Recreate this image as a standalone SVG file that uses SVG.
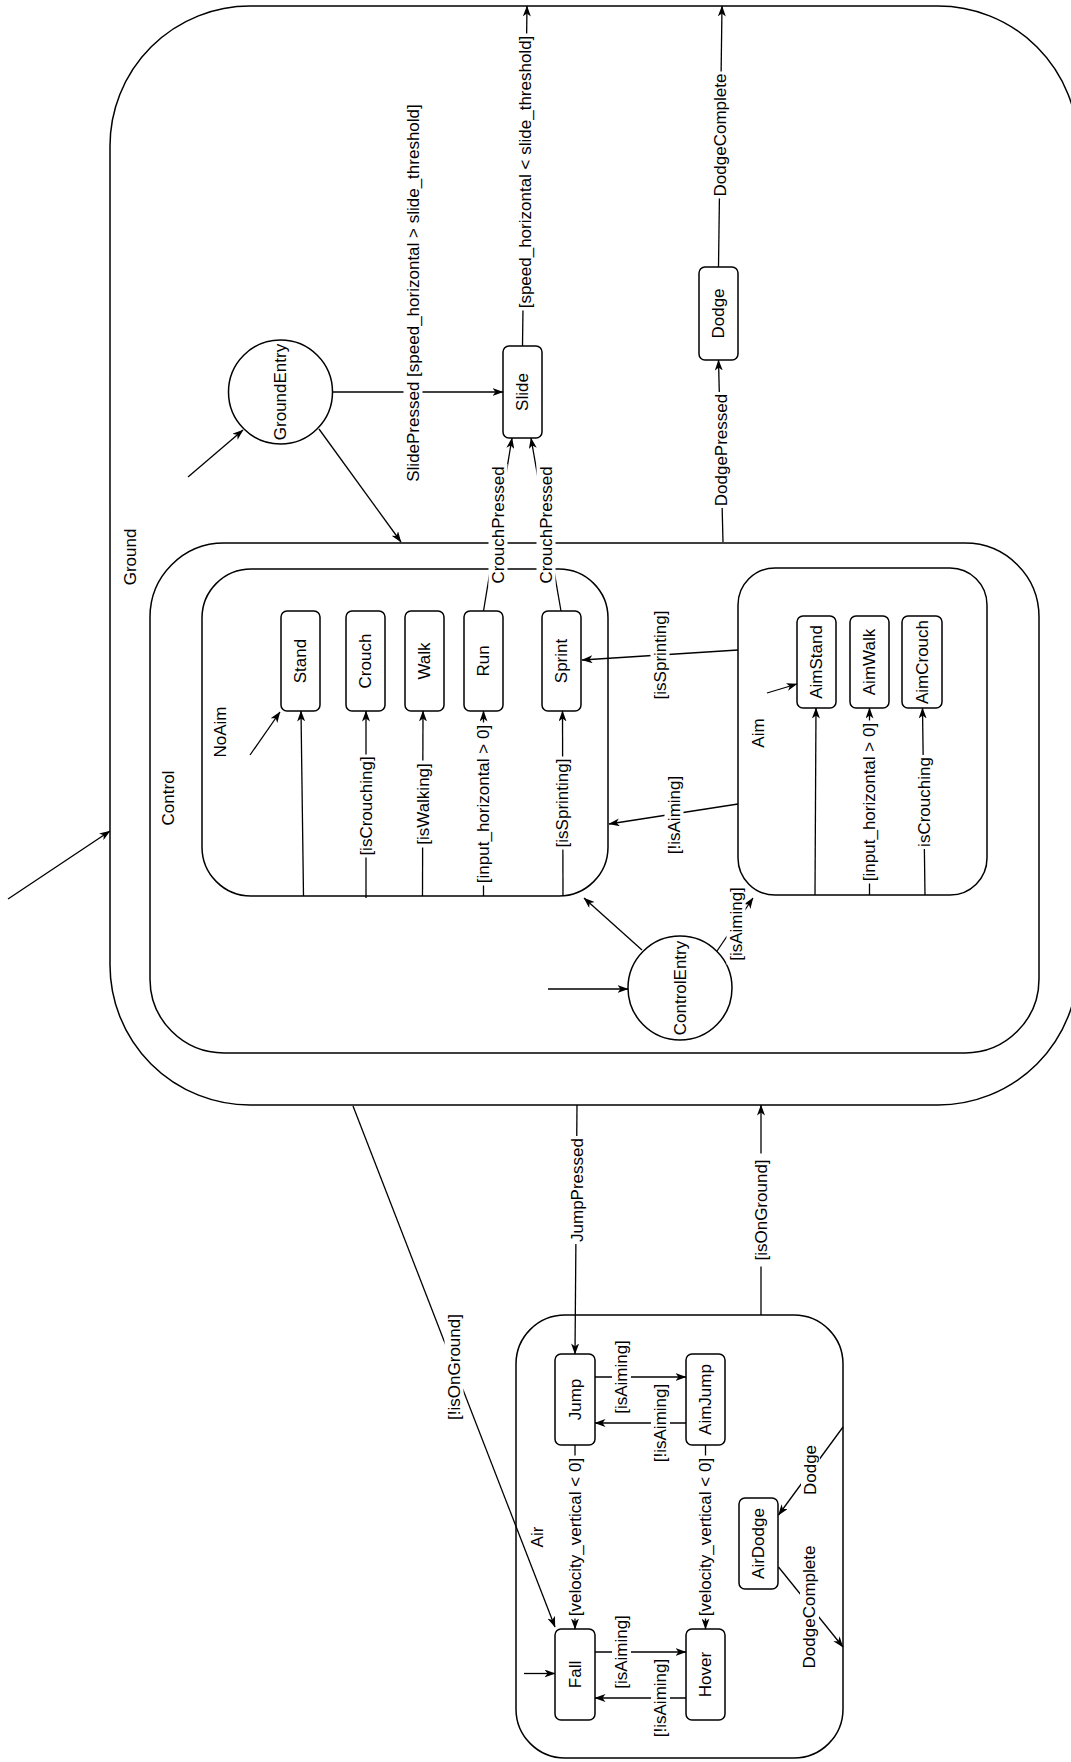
<svg xmlns="http://www.w3.org/2000/svg" width="1071" height="1762" viewBox="0 0 1071 1762">
<defs>
<marker id="ah" viewBox="0 0 11 8" markerWidth="11" markerHeight="8" refX="10.5" refY="4" orient="auto" markerUnits="userSpaceOnUse">
<path d="M0,0 L11,4 L0,8 L3,4 Z" fill="#000"/>
</marker>
<style>
.cont{fill:#fff;stroke:#000;stroke-width:1.5}
.st{fill:#fff;stroke:#000;stroke-width:1.5}
.e{fill:none;stroke:#000;stroke-width:1.3;marker-end:url(#ah)}
.t{font-family:"Liberation Sans",Arial,Helvetica,sans-serif;font-size:17px;fill:#000;text-anchor:middle;dominant-baseline:central}
.lb{fill:#fff;stroke:none}
</style>
</defs>
<rect width="1071" height="1762" fill="#fff"/>

<g id="Ground">
<rect class="cont" x="110" y="6" width="968" height="1099" rx="140" ry="140"/>
<text class="t" transform="translate(130 557) rotate(-90)">Ground</text>
</g>
<g id="Control">
<rect class="cont" x="150" y="543" width="889" height="510" rx="74" ry="74"/>
<text class="t" transform="translate(168 798) rotate(-90)">Control</text>
</g>
<g id="NoAim">
<rect class="cont" x="202" y="569" width="406" height="327" rx="49" ry="49"/>
<text class="t" transform="translate(220.5 732) rotate(-90)">NoAim</text>
</g>
<g id="Aim">
<rect class="cont" x="738" y="568" width="249" height="327" rx="37" ry="37"/>
<text class="t" transform="translate(758 733) rotate(-90)">Aim</text>
</g>
<g id="Air">
<rect class="cont" x="516" y="1315" width="327" height="443" rx="49" ry="49"/>
<text class="t" transform="translate(537.5 1537) rotate(-90)">Air</text>
</g>

<g id="GroundEntry">
<circle class="st" cx="280.5" cy="392" r="52"/>
<text class="t" transform="translate(280.5 392) rotate(-90)">GroundEntry</text>
</g>
<g id="ControlEntry">
<circle class="st" cx="680" cy="988" r="52"/>
<text class="t" transform="translate(680 988) rotate(-90)">ControlEntry</text>
</g>
<g id="Slide">
<rect class="st" x="503" y="346" width="39" height="92" rx="6"/>
<text class="t" transform="translate(522.5 392) rotate(-90)">Slide</text>
</g>
<g id="Dodge">
<rect class="st" x="699" y="267" width="39" height="93" rx="6"/>
<text class="t" transform="translate(718.5 313.5) rotate(-90)">Dodge</text>
</g>
<g id="Stand">
<rect class="st" x="281" y="611" width="39" height="100" rx="6"/>
<text class="t" transform="translate(300.5 661) rotate(-90)">Stand</text>
</g>
<g id="Crouch">
<rect class="st" x="346" y="611" width="39" height="100" rx="6"/>
<text class="t" transform="translate(365.5 661) rotate(-90)">Crouch</text>
</g>
<g id="Walk">
<rect class="st" x="405" y="611" width="39" height="100" rx="6"/>
<text class="t" transform="translate(424.5 661) rotate(-90)">Walk</text>
</g>
<g id="Run">
<rect class="st" x="464" y="611" width="39" height="100" rx="6"/>
<text class="t" transform="translate(483.5 661) rotate(-90)">Run</text>
</g>
<g id="Sprint">
<rect class="st" x="542" y="611" width="39" height="100" rx="6"/>
<text class="t" transform="translate(561.5 661) rotate(-90)">Sprint</text>
</g>
<g id="AimStand">
<rect class="st" x="797" y="616" width="39" height="92" rx="6"/>
<text class="t" transform="translate(816.5 662) rotate(-90)">AimStand</text>
</g>
<g id="AimWalk">
<rect class="st" x="850" y="616" width="39" height="92" rx="6"/>
<text class="t" transform="translate(869.5 662) rotate(-90)">AimWalk</text>
</g>
<g id="AimCrouch">
<rect class="st" x="902" y="616" width="40" height="92" rx="6"/>
<text class="t" transform="translate(922 662) rotate(-90)">AimCrouch</text>
</g>
<g id="Jump">
<rect class="st" x="555" y="1354" width="40" height="91" rx="6"/>
<text class="t" transform="translate(575 1399.5) rotate(-90)">Jump</text>
</g>
<g id="AimJump">
<rect class="st" x="686" y="1354" width="39" height="91" rx="6"/>
<text class="t" transform="translate(705.5 1399.5) rotate(-90)">AimJump</text>
</g>
<g id="Fall">
<rect class="st" x="555" y="1629" width="40" height="91" rx="6"/>
<text class="t" transform="translate(575 1674.5) rotate(-90)">Fall</text>
</g>
<g id="Hover">
<rect class="st" x="686" y="1629" width="39" height="91" rx="6"/>
<text class="t" transform="translate(705.5 1674.5) rotate(-90)">Hover</text>
</g>
<g id="AirDodge">
<rect class="st" x="739" y="1498" width="39" height="91" rx="6"/>
<text class="t" transform="translate(758.5 1543.5) rotate(-90)">AirDodge</text>
</g>

<g id="connectors">
<line class="e" x1="8" y1="899" x2="110" y2="831"/>
<line class="e" x1="188" y1="477" x2="243" y2="430"/>
<line class="e" x1="319" y1="429" x2="401" y2="542"/>
<line class="e" x1="333" y1="392" x2="503" y2="392"/>
<line class="e" x1="522.5" y1="346" x2="527" y2="6"/>
<line class="e" x1="718.5" y1="267" x2="722" y2="6"/>
<line class="e" x1="723" y1="542" x2="718.5" y2="360"/>
<line class="e" x1="483.5" y1="611" x2="512" y2="438"/>
<line class="e" x1="561" y1="611" x2="531" y2="438"/>
<line class="e" x1="548" y1="989" x2="628" y2="989"/>
<line class="e" x1="642" y1="950" x2="584" y2="898"/>
<line class="e" x1="717" y1="951" x2="753" y2="898"/>
<line class="e" x1="738" y1="650" x2="582" y2="660"/>
<line class="e" x1="738" y1="804" x2="609" y2="824"/>
<line class="e" x1="250" y1="755" x2="280" y2="712"/>
<line class="e" x1="303.5" y1="896" x2="301" y2="711"/>
<line class="e" x1="366" y1="898" x2="366" y2="711"/>
<line class="e" x1="422.5" y1="896" x2="423" y2="711"/>
<line class="e" x1="483.5" y1="896" x2="483.5" y2="711"/>
<line class="e" x1="563" y1="896" x2="562.5" y2="711"/>
<line class="e" x1="767" y1="693" x2="797" y2="684"/>
<line class="e" x1="815" y1="895" x2="816" y2="708"/>
<line class="e" x1="869.5" y1="895" x2="869.5" y2="708"/>
<line class="e" x1="925" y1="895" x2="922.5" y2="708"/>
<line class="e" x1="577" y1="1105" x2="575" y2="1354"/>
<line class="e" x1="761" y1="1315" x2="761" y2="1105"/>
<line class="e" x1="353" y1="1106" x2="555" y2="1627"/>
<line class="e" x1="524" y1="1673.5" x2="555" y2="1673.5"/>
<line class="e" x1="595" y1="1377" x2="686" y2="1377"/>
<line class="e" x1="686" y1="1423" x2="595" y2="1423"/>
<line class="e" x1="575" y1="1445" x2="575" y2="1629"/>
<line class="e" x1="705.5" y1="1445" x2="705.5" y2="1629"/>
<line class="e" x1="595" y1="1652" x2="686" y2="1652"/>
<line class="e" x1="686" y1="1698" x2="595" y2="1698"/>
<line class="e" x1="843" y1="1427" x2="778.5" y2="1515"/>
<line class="e" x1="778.5" y1="1567" x2="843" y2="1647"/>

<g id="edge-labels">
<g transform="translate(413 293) rotate(-90)"><rect class="lb" x="-191" y="-9.5" width="382" height="19"/><text class="t">SlidePressed [speed_horizontal &gt; slide_threshold]</text></g>
<g transform="translate(525 172) rotate(-90)"><rect class="lb" x="-138.5" y="-9.5" width="277" height="19"/><text class="t">[speed_horizontal &lt; slide_threshold]</text></g>
<g transform="translate(720.5 135) rotate(-90)"><rect class="lb" x="-63.5" y="-9.5" width="127" height="19"/><text class="t">DodgeComplete</text></g>
<g transform="translate(721 450) rotate(-90)"><rect class="lb" x="-58" y="-9.5" width="116" height="19"/><text class="t">DodgePressed</text></g>
<g transform="translate(498 525) rotate(-90)"><rect class="lb" x="-61" y="-9.5" width="122" height="19"/><text class="t">CrouchPressed</text></g>
<g transform="translate(546 525) rotate(-90)"><rect class="lb" x="-61" y="-9.5" width="122" height="19"/><text class="t">CrouchPressed</text></g>
<g transform="translate(366 806) rotate(-90)"><rect class="lb" x="-51.5" y="-9.5" width="103" height="19"/><text class="t">[isCrouching]</text></g>
<g transform="translate(423 804) rotate(-90)"><rect class="lb" x="-43.5" y="-9.5" width="87" height="19"/><text class="t">[isWalking]</text></g>
<g transform="translate(483.5 804) rotate(-90)"><rect class="lb" x="-81.5" y="-9.5" width="163" height="19"/><text class="t">[input_horizontal &gt; 0]</text></g>
<g transform="translate(562.5 803) rotate(-90)"><rect class="lb" x="-46.5" y="-9.5" width="93" height="19"/><text class="t">[isSprinting]</text></g>
<g transform="translate(869.5 802) rotate(-90)"><rect class="lb" x="-81.5" y="-9.5" width="163" height="19"/><text class="t">[input_horizontal &gt; 0]</text></g>
<g transform="translate(924 802) rotate(-90)"><rect class="lb" x="-47" y="-9.5" width="94" height="19"/><text class="t">isCrouching</text></g>
<g transform="translate(660 655) rotate(-90)"><rect class="lb" x="-46.5" y="-9.5" width="93" height="19"/><text class="t">[isSprinting]</text></g>
<g transform="translate(674 815) rotate(-90)"><rect class="lb" x="-43" y="-9.5" width="86" height="19"/><text class="t">[!isAiming]</text></g>
<g transform="translate(736 924) rotate(-90)"><rect class="lb" x="-40.5" y="-9.5" width="81" height="19"/><text class="t">[isAiming]</text></g>
<g transform="translate(621.5 1377) rotate(-90)"><rect class="lb" x="-40.5" y="-9.5" width="81" height="19"/><text class="t">[isAiming]</text></g>
<g transform="translate(660.5 1423) rotate(-90)"><rect class="lb" x="-43" y="-9.5" width="86" height="19"/><text class="t">[!isAiming]</text></g>
<g transform="translate(575 1537) rotate(-90)"><rect class="lb" x="-81.5" y="-9.5" width="163" height="19"/><text class="t">[velocity_vertical &lt; 0]</text></g>
<g transform="translate(705.5 1537) rotate(-90)"><rect class="lb" x="-81.5" y="-9.5" width="163" height="19"/><text class="t">[velocity_vertical &lt; 0]</text></g>
<g transform="translate(621.5 1652) rotate(-90)"><rect class="lb" x="-40.5" y="-9.5" width="81" height="19"/><text class="t">[isAiming]</text></g>
<g transform="translate(660.5 1698) rotate(-90)"><rect class="lb" x="-43" y="-9.5" width="86" height="19"/><text class="t">[!isAiming]</text></g>
<g transform="translate(810.5 1470) rotate(-90)"><rect class="lb" x="-27.5" y="-9.5" width="55" height="19"/><text class="t">Dodge</text></g>
<g transform="translate(809.5 1607) rotate(-90)"><rect class="lb" x="-63.5" y="-9.5" width="127" height="19"/><text class="t">DodgeComplete</text></g>
<g transform="translate(577 1190) rotate(-90)"><rect class="lb" x="-54" y="-9.5" width="108" height="19"/><text class="t">JumpPressed</text></g>
<g transform="translate(761 1210) rotate(-90)"><rect class="lb" x="-56.5" y="-9.5" width="113" height="19"/><text class="t">[isOnGround]</text></g>
<g transform="translate(454 1367) rotate(-90)"><rect class="lb" x="-59" y="-9.5" width="118" height="19"/><text class="t">[!isOnGround]</text></g>
</g>
</g>
</svg>
